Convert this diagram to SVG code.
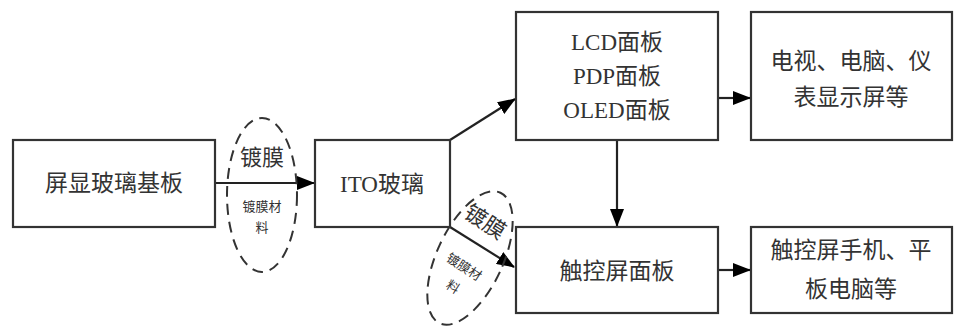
<svg xmlns="http://www.w3.org/2000/svg" width="954" height="329" viewBox="0 0 954 329">
<defs>
<marker id="ah" markerWidth="18" markerHeight="14" refX="17" refY="7" orient="auto" markerUnits="userSpaceOnUse">
<path d="M0,0 L18,7 L0,14 Z" fill="#000"/>
</marker>
<style>
.box{fill:#fff;stroke:#333;stroke-width:2.2}
.t{font-family:"Liberation Serif","Noto Sans CJK SC",serif;fill:#333;text-anchor:middle;dominant-baseline:central}
.big{font-size:23px}
.mid{font-size:21px}
.sm{font-size:13px}
.ln{stroke:#222;stroke-width:2.2;fill:none}
.el{fill:none;stroke:#333;stroke-width:2;stroke-dasharray:11 7}
</style>
</defs>
<rect width="954" height="329" fill="#fff"/>
<g id="connectors">
<line class="ln" x1="215" y1="183" x2="314" y2="183" marker-end="url(#ah)"/>
<line class="ln" x1="450" y1="140" x2="515" y2="99" marker-end="url(#ah)"/>
<line class="ln" x1="450" y1="227" x2="514" y2="267" marker-end="url(#ah)"/>
<line class="ln" x1="718" y1="98" x2="750" y2="98" marker-end="url(#ah)"/>
<line class="ln" x1="617" y1="140" x2="617" y2="226" marker-end="url(#ah)"/>
<line class="ln" x1="718" y1="270" x2="750" y2="270" marker-end="url(#ah)"/>
</g>
<g id="coating1">
<ellipse class="el" cx="262" cy="195" rx="35" ry="77"/>
<text class="t mid" x="262" y="157" style="font-size:22px">镀膜</text>
<text class="t sm" x="262" y="206">镀膜材</text>
<text class="t sm" x="262" y="227">料</text>
</g>
<g id="coating2">
<ellipse class="el" cx="470" cy="258" rx="33" ry="72" transform="rotate(25 470 258)"/>
<text class="t" x="485" y="222" style="font-size:22px" transform="rotate(33 485 222)">镀膜</text>
<text class="t sm" x="464" y="267" transform="rotate(33 464 267)">镀膜材</text>
<text class="t sm" x="453" y="287" transform="rotate(33 453 287)">料</text>
</g>
<g id="n1">
<rect class="box" x="13" y="140" width="202" height="87"/>
<text class="t big" x="114" y="183">屏显玻璃基板</text>
</g>
<g id="n2">
<rect class="box" x="315" y="140" width="135" height="87"/>
<text class="t big" x="382" y="184">ITO玻璃</text>
</g>
<g id="n3">
<rect class="box" x="516" y="12" width="202" height="128"/>
<text class="t big" x="617" y="42">LCD面板</text>
<text class="t big" x="617" y="76">PDP面板</text>
<text class="t big" x="617" y="110">OLED面板</text>
</g>
<g id="n4">
<rect class="box" x="751" y="12" width="201" height="128"/>
<text class="t big" x="851" y="61">电视、电脑、仪</text>
<text class="t big" x="851" y="97">表显示屏等</text>
</g>
<g id="n5">
<rect class="box" x="516" y="227" width="202" height="86"/>
<text class="t big" x="617" y="271">触控屏面板</text>
</g>
<g id="n6">
<rect class="box" x="751" y="227" width="201" height="86"/>
<text class="t big" x="851" y="250">触控屏手机、平</text>
<text class="t big" x="851" y="289">板电脑等</text>
</g>
</svg>
